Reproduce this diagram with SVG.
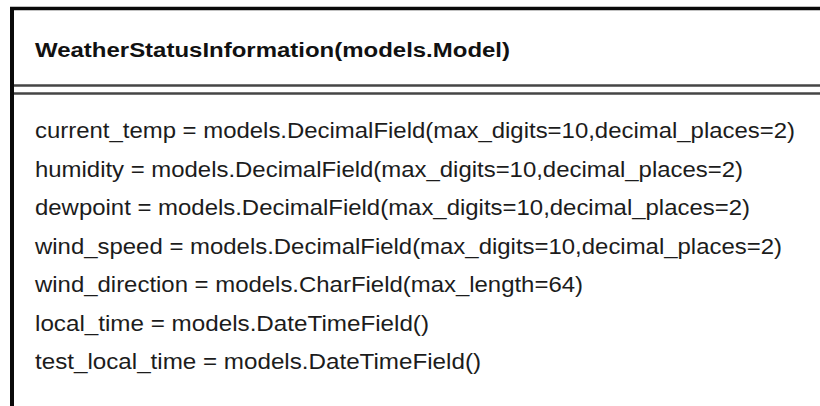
<svg xmlns="http://www.w3.org/2000/svg" width="820" height="406" viewBox="0 0 820 406">
  <style>
    .border { stroke: #0a0a0a; fill: none; }
    .sep { stroke: #454545; stroke-width: 2.5; fill: none; }
    .title { font-family: "Liberation Sans", Arial, sans-serif; font-weight: bold; font-size: 20px; fill: #111; }
    .field { font-family: "Liberation Sans", Arial, sans-serif; font-size: 22.5px; fill: #1c1c1c; }
  </style>
  <rect x="0" y="0" width="820" height="406" fill="#ffffff"/>
  <g id="WeatherStatusInformation">
    <line class="border" x1="10" y1="8.5" x2="820" y2="8.5" stroke-width="3.5"/>
    <line class="border" x1="12" y1="7" x2="12" y2="406" stroke-width="4"/>
    <line class="sep" x1="14" y1="85.5" x2="820" y2="85.5"/>
    <line class="sep" x1="14" y1="93.5" x2="820" y2="93.5"/>
    <text class="title" x="35" y="57" textLength="475" lengthAdjust="spacingAndGlyphs">WeatherStatusInformation(models.Model)</text>
    <text class="field" x="35" y="138" textLength="760" lengthAdjust="spacingAndGlyphs">current_temp = models.DecimalField(max_digits=10,decimal_places=2)</text>
    <text class="field" x="35" y="176.5" textLength="708" lengthAdjust="spacingAndGlyphs">humidity = models.DecimalField(max_digits=10,decimal_places=2)</text>
    <text class="field" x="35" y="215" textLength="715" lengthAdjust="spacingAndGlyphs">dewpoint = models.DecimalField(max_digits=10,decimal_places=2)</text>
    <text class="field" x="35" y="253.5" textLength="747" lengthAdjust="spacingAndGlyphs">wind_speed = models.DecimalField(max_digits=10,decimal_places=2)</text>
    <text class="field" x="35" y="292" textLength="548" lengthAdjust="spacingAndGlyphs">wind_direction = models.CharField(max_length=64)</text>
    <text class="field" x="35" y="330.5" textLength="394" lengthAdjust="spacingAndGlyphs">local_time = models.DateTimeField()</text>
    <text class="field" x="35" y="369" textLength="446" lengthAdjust="spacingAndGlyphs">test_local_time = models.DateTimeField()</text>
  </g>
  <g id="connectors"></g>
</svg>
